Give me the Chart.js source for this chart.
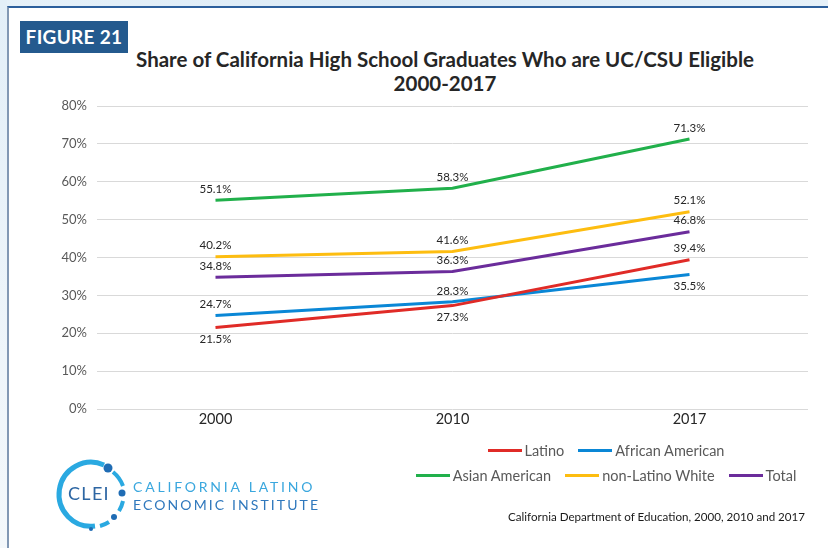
<!DOCTYPE html>
<html>
<head>
<meta charset="utf-8">
<script src="https://cdn.jsdelivr.net/npm/chart.js@4/dist/chart.umd.min.js"></script>
<style>
  body { margin: 0; background: #fff; font-family: Lato, "Open Sans", sans-serif; }
  #wrap { position: relative; width: 828px; height: 548px; overflow: hidden; background: #fff; }
  #topband { position: absolute; left: 0; top: 0; width: 828px; height: 6px; background: linear-gradient(90deg, #e6f1f9, #dbeaf6 50%, #e6f1f9); }
  #leftband { position: absolute; left: 0; top: 0; width: 7px; height: 548px; background: linear-gradient(180deg, #e3eff8, #f4f8fb); }
  #frame { position: absolute; left: 7px; top: 6px; width: 830px; height: 560px; border-top: 2px solid #2c5f9c; border-left: 2px solid #8298b4; box-sizing: border-box; }
  #fig { position: absolute; left: 20px; top: 21px; width: 108px; height: 32px; background: #245a8e; color: #fff; font: bold 19px Lato, sans-serif; line-height: 32px; text-align: center; letter-spacing: 0.3px; }
  #title { position: absolute; left: 60px; width: 770px; top: 47px; text-align: center; font: bold 20.5px Lato, sans-serif; color: #262626; line-height: 24px; }
  #chart { position: absolute; left: 0; top: 0; }
  #legend { position: absolute; left: 406px; width: 400px; top: 438px; font: 14.5px Lato, sans-serif; color: #595959; }
  .row { display: flex; justify-content: center; height: 25px; align-items: center; }
  .item { display: flex; align-items: center; margin: 0 7px; }
  .swatch { width: 34px; height: 3px; margin-right: 3px; }
  #source { position: absolute; right: 23px; top: 510px; font: 11.6px Lato, sans-serif; color: #1a1a1a; }
  #logo { position: absolute; left: 0; top: 440px; }
</style>
</head>
<body>
<div id="wrap">
  <div id="topband"></div>
  <div id="leftband"></div>
  <div id="frame"></div>
  <div id="fig">FIGURE 21</div>
  <div id="title">Share of California High School Graduates Who are UC/CSU Eligible<br>2000-2017</div>
  <canvas id="chart" width="828" height="548"></canvas>
  <div id="legend"></div>
  <div id="source">California Department of Education, 2000, 2010 and 2017</div>
  <svg id="logo" width="340" height="108" viewBox="0 440 340 108">
    <path d="M 104 465 A 32 32 0 1 0 95 526" fill="none" stroke="#2aa9e1" stroke-width="5"/>
    <path d="M 113 472 A 32 32 0 0 1 123 486" fill="none" stroke="#2aa9e1" stroke-width="4"/>
    <path d="M 123 501 A 32 32 0 0 1 119 511" fill="none" stroke="#2aa9e1" stroke-width="4"/>
    <path d="M 109 522 A 32 32 0 0 1 100 526" fill="none" stroke="#2aa9e1" stroke-width="4"/>
    <circle cx="108" cy="468" r="4.5" fill="#1f6cb4"/>
    <circle cx="122" cy="493" r="3.5" fill="#1f6cb4"/>
    <circle cx="114" cy="517" r="3" fill="#1f6cb4"/>
    <circle cx="91" cy="529" r="2" fill="#1f6cb4"/>
    <text x="89" y="500" text-anchor="middle" font-family="Lato, sans-serif" font-size="18" fill="#2d66a3" letter-spacing="1.3">CLEI</text>
    <text x="133" y="492" font-family="Lato, sans-serif" font-size="14" fill="#3aa7de" letter-spacing="2.8">CALIFORNIA LATINO</text>
    <text x="133" y="510" font-family="Lato, sans-serif" font-size="14" fill="#2f78bd" letter-spacing="2.1">ECONOMIC INSTITUTE</text>
  </svg>
</div>
<script>
// dados
const anos = ["2000", "2010", "2017"];
const latino = [21.5, 27.3, 39.4];
const africanAmerican = [24.7, 28.3, 35.5];
const asianAmerican = [55.1, 58.3, 71.3];
const nonLatinoWhite = [40.2, 41.6, 52.1];
const total = [34.8, 36.3, 46.8];
const yTicks = [0, 10, 20, 30, 40, 50, 60, 70, 80];

// rótulos abaixo da linha (dataset, ponto)
const abaixo = { "0-0": true, "0-1": true, "1-2": true };

const rotulos = {
  id: "rotulos",
  afterDatasetsDraw(chart) {
    const ctx = chart.ctx;
    ctx.save();
    ctx.font = "11.5px Lato, sans-serif";
    ctx.fillStyle = "#262626";
    ctx.textAlign = "center";
    ctx.textBaseline = "middle";
    chart.data.datasets.forEach((ds, i) => {
      chart.getDatasetMeta(i).data.forEach((pt, j) => {
        const dy = abaixo[i + "-" + j] ? 12 : -11;
        ctx.fillText(ds.data[j].toFixed(1) + "%", pt.x, pt.y + dy);
      });
    });
    ctx.restore();
  }
};

const legendaHtml = {
  id: "legendaHtml",
  afterUpdate(chart) {
    const box = document.getElementById("legend");
    box.innerHTML = "";
    const items = Chart.defaults.plugins.legend.labels.generateLabels(chart);
    [items.slice(0, 2), items.slice(2)].forEach((grupo) => {
      const row = document.createElement("div");
      row.className = "row";
      grupo.forEach((it) => {
        const el = document.createElement("div");
        el.className = "item";
        el.innerHTML = `<span class="swatch" style="background:${it.strokeStyle}"></span>${it.text}`;
        row.appendChild(el);
      });
      box.appendChild(row);
    });
  }
};

const ctx = document.getElementById("chart").getContext("2d");

const chart = new Chart(ctx, {
  type: "line",
  data: {
    labels: anos,
    datasets: [
      { label: "Latino", data: latino, borderColor: "#e02b27", backgroundColor: "#e02b27" },
      { label: "African American", data: africanAmerican, borderColor: "#0a87d6", backgroundColor: "#0a87d6" },
      { label: "Asian American", data: asianAmerican, borderColor: "#21b04b", backgroundColor: "#21b04b" },
      { label: "non-Latino White", data: nonLatinoWhite, borderColor: "#fdbd10", backgroundColor: "#fdbd10" },
      { label: "Total", data: total, borderColor: "#6b2c9b", backgroundColor: "#6b2c9b" },
    ],
  },
  options: {
    responsive: false,
    animation: false,
    layout: { padding: { left: 47, right: 20, top: 106, bottom: 109 } },
    elements: {
      line: { borderWidth: 3, tension: 0, borderCapStyle: "butt" },
      point: { radius: 0, hoverRadius: 0 },
    },
    plugins: {
      legend: { display: false },
      title: { display: false },
      tooltip: { enabled: false },
    },
    scales: {
      x: {
        offset: true,
        grid: { display: false },
        border: { display: false },
        ticks: { color: "#262626", font: { family: "Lato", size: 14.5 }, padding: -6 },
        afterFit: (s) => { s.height = 30; },
      },
      y: {
        min: 0,
        max: 80,
        afterBuildTicks: (s) => { s.ticks = yTicks.map((v) => ({ value: v })); },
        grid: { color: "#d9d9d9", lineWidth: 1, drawTicks: false },
        border: { display: false },
        ticks: {
          color: "#595959",
          font: { family: "Lato", size: 13 },
          padding: 10,
          callback: (v) => v + "%",
        },
        afterFit: (s) => { s.width = 50; },
      },
    },
  },
  plugins: [rotulos, legendaHtml],
});
</script>
</body>
</html>
